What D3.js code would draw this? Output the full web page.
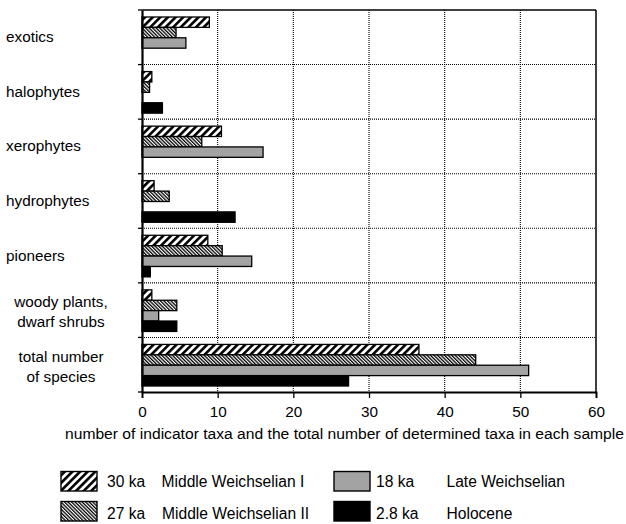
<!DOCTYPE html>
<html><head><meta charset="utf-8">
<script src="https://cdn.jsdelivr.net/npm/d3@7"></script>
<style>body{margin:0;background:#fff}svg{display:block}text{font-family:"Liberation Sans",Arial,sans-serif;fill:#000}</style>
</head><body>
<script>
const categories = ["exotics","halophytes","xerophytes","hydrophytes","pioneers","woody plants, dwarf shrubs","total number of species"];
const categoryLines = [["exotics"],["halophytes"],["xerophytes"],["hydrophytes"],["pioneers"],["woody plants,","dwarf shrubs"],["total number","of species"]];
const seriesAges = ["30 ka","27 ka","18 ka","2.8 ka"];
const seriesNames = ["Middle Weichselian I","Middle Weichselian II","Late Weichselian","Holocene"];
const ka30 = [8.9, 1.3, 10.5, 1.6, 8.7, 1.3, 36.6];
const ka27 = [4.5, 1.0, 7.9, 3.6, 10.6, 4.6, 44.1];
const ka18 = [5.8, 0, 16.0, 0, 14.5, 2.2, 51.1];
const ka2_8 = [0, 2.7, 0, 12.3, 1.1, 4.6, 27.3];
const xTicks = [0,10,20,30,40,50,60];
const axisTitle = "number of indicator taxa and the total number of determined taxa in each sample";

const seriesValues = [ka30, ka27, ka18, ka2_8];
const W = 626, H = 524, FS = 15.3, FL = 15.6;
const m = {left:142, right:30, top:10, bottom:132};
const svg = d3.select("body").append("svg").attr("width",W).attr("height",H);
const defs = svg.append("defs");
function stripes(id, size, sw, angle){
  const p = defs.append("pattern").attr("id",id).attr("patternUnits","userSpaceOnUse")
    .attr("width",size).attr("height",size).attr("patternTransform",`rotate(${angle})`);
  p.append("rect").attr("width",size).attr("height",size).attr("fill","#fff");
  p.append("rect").attr("width",sw).attr("height",size).attr("fill","#000");
}
stripes("p30", 5.4, 2.6, 45);
stripes("p27", 2.5, 1.3, -45);
const fills = ["url(#p30)","url(#p27)","#a3a3a3","#000"];

const x = d3.scaleLinear().domain([0,60]).range([m.left, W-m.right]);
const y = d3.scaleBand().domain(categories).range([m.top, H-m.bottom]).padding(0);
const yi = d3.scaleBand().domain(d3.range(4)).range([7, y.bandwidth()-6]).padding(0);

const g = svg.append("g");
g.selectAll(".vg").data(xTicks.slice(1,-1)).join("line")
  .attr("x1",d=>x(d)).attr("x2",d=>x(d)).attr("y1",m.top).attr("y2",H-m.bottom)
  .attr("stroke","#000").attr("stroke-width",1.1).attr("stroke-dasharray","1,1");
g.selectAll(".hg").data(categories.slice(1)).join("line")
  .attr("x1",m.left).attr("x2",W-m.right).attr("y1",d=>y(d)).attr("y2",d=>y(d))
  .attr("stroke","#000").attr("stroke-width",1.1).attr("stroke-dasharray","1,1");
svg.append("line").attr("x1",m.left).attr("x2",W-m.right).attr("y1",m.top).attr("y2",m.top).attr("stroke","#000").attr("stroke-width",1.5);
svg.append("line").attr("x1",W-m.right).attr("x2",W-m.right).attr("y1",m.top).attr("y2",H-m.bottom).attr("stroke","#000").attr("stroke-width",1.5);

seriesValues.forEach((vals,si)=>{
  g.selectAll(".b"+si).data(vals.map((v,i)=>({v,c:categories[i]})).filter(d=>d.v>0)).join("rect")
    .attr("x",x(0)).attr("y",d=>y(d.c)+yi(si)).attr("width",d=>x(d.v)-x(0)).attr("height",yi.bandwidth())
    .attr("fill",fills[si]).attr("stroke","#000").attr("stroke-width",1.3);
});

const xa = svg.append("g").attr("transform",`translate(0,${H-m.bottom})`)
  .call(d3.axisBottom(x).tickValues(xTicks).tickSize(6).tickPadding(8));
xa.select(".domain").attr("stroke-width",1.8);
xa.selectAll(".tick line").attr("stroke-width",1.3);
xa.selectAll("text").attr("font-size",FS).style("font-family","Liberation Sans, Arial, sans-serif");
const ya = svg.append("g").attr("transform",`translate(${m.left},0)`)
  .call(d3.axisLeft(y).tickValues([]).tickSizeOuter(0));
ya.select(".domain").attr("stroke-width",2.2);
ya.selectAll(".sep").data(categories.map(c=>y(c)).concat([H-m.bottom])).join("line")
  .attr("x1",-4).attr("x2",0).attr("y1",d=>d).attr("y2",d=>d).attr("stroke","#000").attr("stroke-width",1.3);

categoryLines.forEach((lines,i)=>{
  const cy = y(categories[i]) + y.bandwidth()/2;
  if(lines.length===1){
    svg.append("text").attr("x",6).attr("y",cy+5).attr("font-size",FS).text(lines[0]);
  } else {
    lines.forEach((l,j)=>svg.append("text").attr("x",61).attr("text-anchor","middle")
      .attr("y",cy + 1 + (j===0?-4:16)).attr("font-size",FS).text(l));
  }
});

svg.append("text").attr("x",65).attr("y",439).attr("font-size",FS)
  .attr("textLength",559).attr("lengthAdjust","spacingAndGlyphs").text(axisTitle);

// legend: [swatchX, swatchY, ageX, nameX, baseline]
const legPos = [[61,471.5,107,161.5,487],[61,501.5,107,162,519],[334,471.5,376,446.5,487],[334,501.5,376,446.5,519]];
seriesAges.forEach((a,i)=>{
  const [sx,sy,ax,nx,bl]=legPos[i];
  svg.append("rect").attr("x",sx).attr("y",sy).attr("width",36).attr("height",19.5)
    .attr("fill",fills[i]).attr("stroke","#000").attr("stroke-width",1.4);
  svg.append("text").attr("x",ax).attr("y",bl).attr("font-size",FL).text(a);
  svg.append("text").attr("x",nx).attr("y",bl).attr("font-size",FL).text(seriesNames[i]);
});
</script>
</body></html>
